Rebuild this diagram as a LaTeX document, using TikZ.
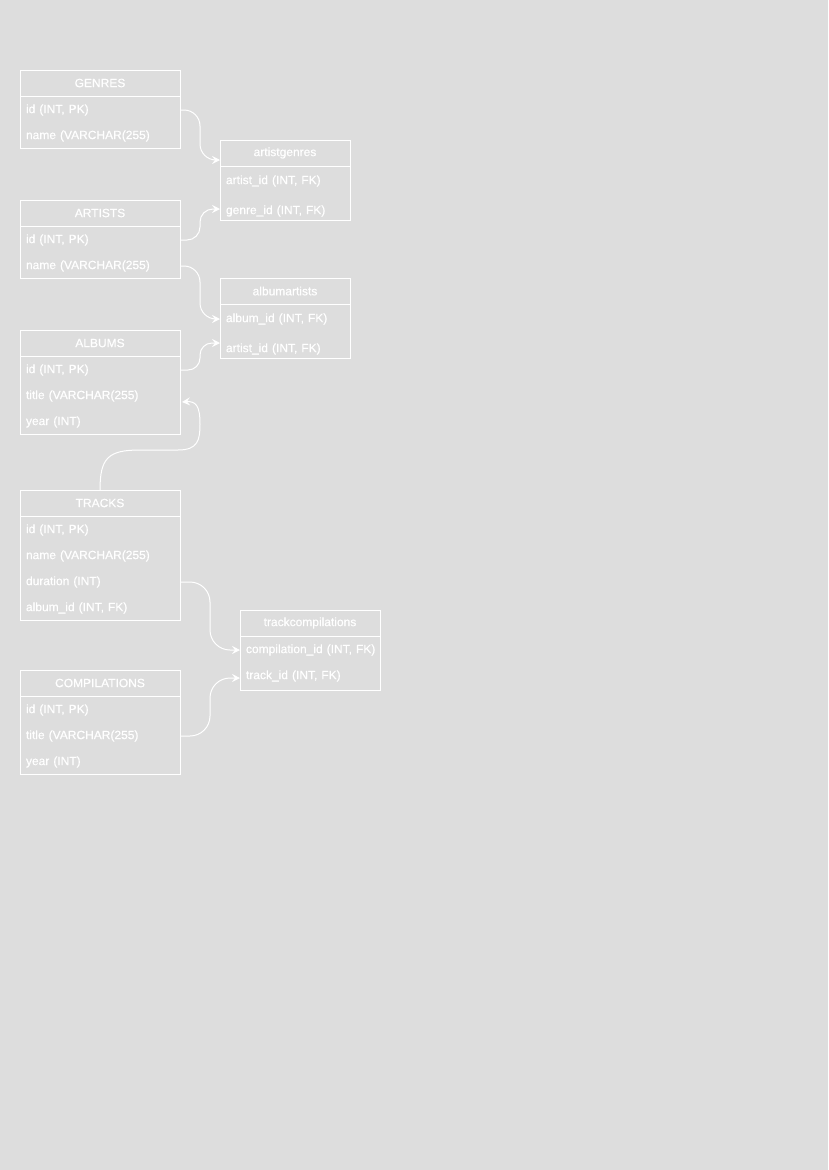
\documentclass[tikz,border=0pt]{standalone}
\usepackage{fontspec}
\setmainfont{Liberation Sans}
\newfontfamily\erfont{Liberation Sans}[FakeBold=0.6]
\usetikzlibrary{arrows.meta,calc}
\definecolor{bg}{HTML}{DDDDDD}
\begin{document}
\begin{tikzpicture}[x=1pt,y=-1pt,line width=1pt,
  every node/.style={text=white,font=\erfont\fontsize{12}{14}\selectfont},
  head/.style={draw=white,line width=1pt,minimum width=#1,minimum height=26pt,inner sep=0pt,outer sep=0pt,anchor=north west},
  tbody/.style={draw=white,line width=1pt,minimum width=#1,inner sep=0pt,outer sep=0pt,anchor=north west},
  fieldrow/.style={text width=#1,inner xsep=6pt,inner ysep=0pt,outer sep=0pt,anchor=west,align=left,yshift=-1pt},
  conn/.style={draw=white,line width=1pt,-{Stealth[length=8pt,width=8pt,inset=3pt]}}]
\fill[bg] (0,0) rectangle (828,1170);
\useasboundingbox (0,0) rectangle (828,1170);

% GENRES
\node[head=160pt] (g) at (20,70) {GENRES};
\node[tbody=160pt,minimum height=52pt] (gb) at (g.south west) {};
\node[fieldrow=148pt] (g1) at (20,109) {id (INT, PK)};
\node[fieldrow=148pt] (g2) at (20,135) {name (VARCHAR(255)};

% artistgenres
\node[head=130pt] (ag) at (220,140) {artistgenres};
\node[tbody=130pt,minimum height=54pt] (agb) at (ag.south west) {};
\node[fieldrow=118pt] (ag1) at (220,180) {artist\_id (INT, FK)};
\node[fieldrow=118pt] (ag2) at (220,210) {genre\_id (INT, FK)};

% ARTISTS
\node[head=160pt] (ar) at (20,200) {ARTISTS};
\node[tbody=160pt,minimum height=52pt] (arb) at (ar.south west) {};
\node[fieldrow=148pt] (ar1) at (20,239) {id (INT, PK)};
\node[fieldrow=148pt] (ar2) at (20,265) {name (VARCHAR(255)};

% albumartists
\node[head=130pt] (aa) at (220,278) {albumartists};
\node[tbody=130pt,minimum height=54pt] (aab) at (aa.south west) {};
\node[fieldrow=118pt] (aa1) at (220,318) {album\_id (INT, FK)};
\node[fieldrow=118pt] (aa2) at (220,348) {artist\_id (INT, FK)};

% ALBUMS
\node[head=160pt] (al) at (20,330) {ALBUMS};
\node[tbody=160pt,minimum height=78pt] (alb) at (al.south west) {};
\node[fieldrow=148pt] (al1) at (20,369) {id (INT, PK)};
\node[fieldrow=148pt] (al2) at (20,395) {title (VARCHAR(255)};
\node[fieldrow=148pt] (al3) at (20,421) {year (INT)};

% TRACKS
\node[head=160pt] (tr) at (20,490) {TRACKS};
\node[tbody=160pt,minimum height=104pt] (trb) at (tr.south west) {};
\node[fieldrow=148pt] (tr1) at (20,529) {id (INT, PK)};
\node[fieldrow=148pt] (tr2) at (20,555) {name (VARCHAR(255)};
\node[fieldrow=148pt] (tr3) at (20,581) {duration (INT)};
\node[fieldrow=148pt] (tr4) at (20,607) {album\_id (INT, FK)};

% trackcompilations
\node[head=140pt] (tc) at (240,610) {trackcompilations};
\node[tbody=140pt,minimum height=54pt] (tcb) at (tc.south west) {};
\node[fieldrow=128pt] (tc1) at (240,649) {\mbox{compilation\_id (INT, FK)}};
\node[fieldrow=128pt] (tc2) at (240,675) {track\_id (INT, FK)};

% COMPILATIONS
\node[head=160pt] (co) at (20,670) {COMPILATIONS};
\node[tbody=160pt,minimum height=78pt] (cob) at (co.south west) {};
\node[fieldrow=148pt] (co1) at (20,709) {id (INT, PK)};
\node[fieldrow=148pt] (co2) at (20,735) {title (VARCHAR(255)};
\node[fieldrow=148pt] (co3) at (20,761) {year (INT)};

% connectors
\draw[conn,rounded corners=16pt] (g1.east) -- ++(20,0) |- ($(ag.south west)+(0,-6)$);
\draw[conn,rounded corners=13pt] (ar1.east) -- ++(20,0) |- ($(ag2.west)+(0,-2)$);
\draw[conn,rounded corners=16pt] (ar2.east) -- ++(20,0) |- (aa1.west);
\draw[conn,rounded corners=12pt] (al1.east) -- ++(20,0) |- ($(aa2.west)+(0,-6)$);
\draw[conn] (tr.north) .. controls ($(tr.north)+(0,-32)$) and ($(tr.north)+(8,-40)$) .. ($(tr.north)+(40,-40)$)
  -- ($(tr.north)+(78,-40)$) .. controls ($(tr.north)+(98,-40)$) and ($(tr.north)+(100,-50)$) .. ($(tr.north)+(100,-66)$)
  .. controls ($(tr.north)+(100,-84)$) and ($(tr.north)+(96,-89)$) .. ($(al2.east)+(2,6)$);
\draw[conn,rounded corners=20pt] (tr3.east) -- ++(30,0) |- (tc1.west);
\draw[conn,rounded corners=20pt] (co2.east) -- ++(30,0) |- ($(tc2.west)+(0,2)$);
\end{tikzpicture}
\end{document}
